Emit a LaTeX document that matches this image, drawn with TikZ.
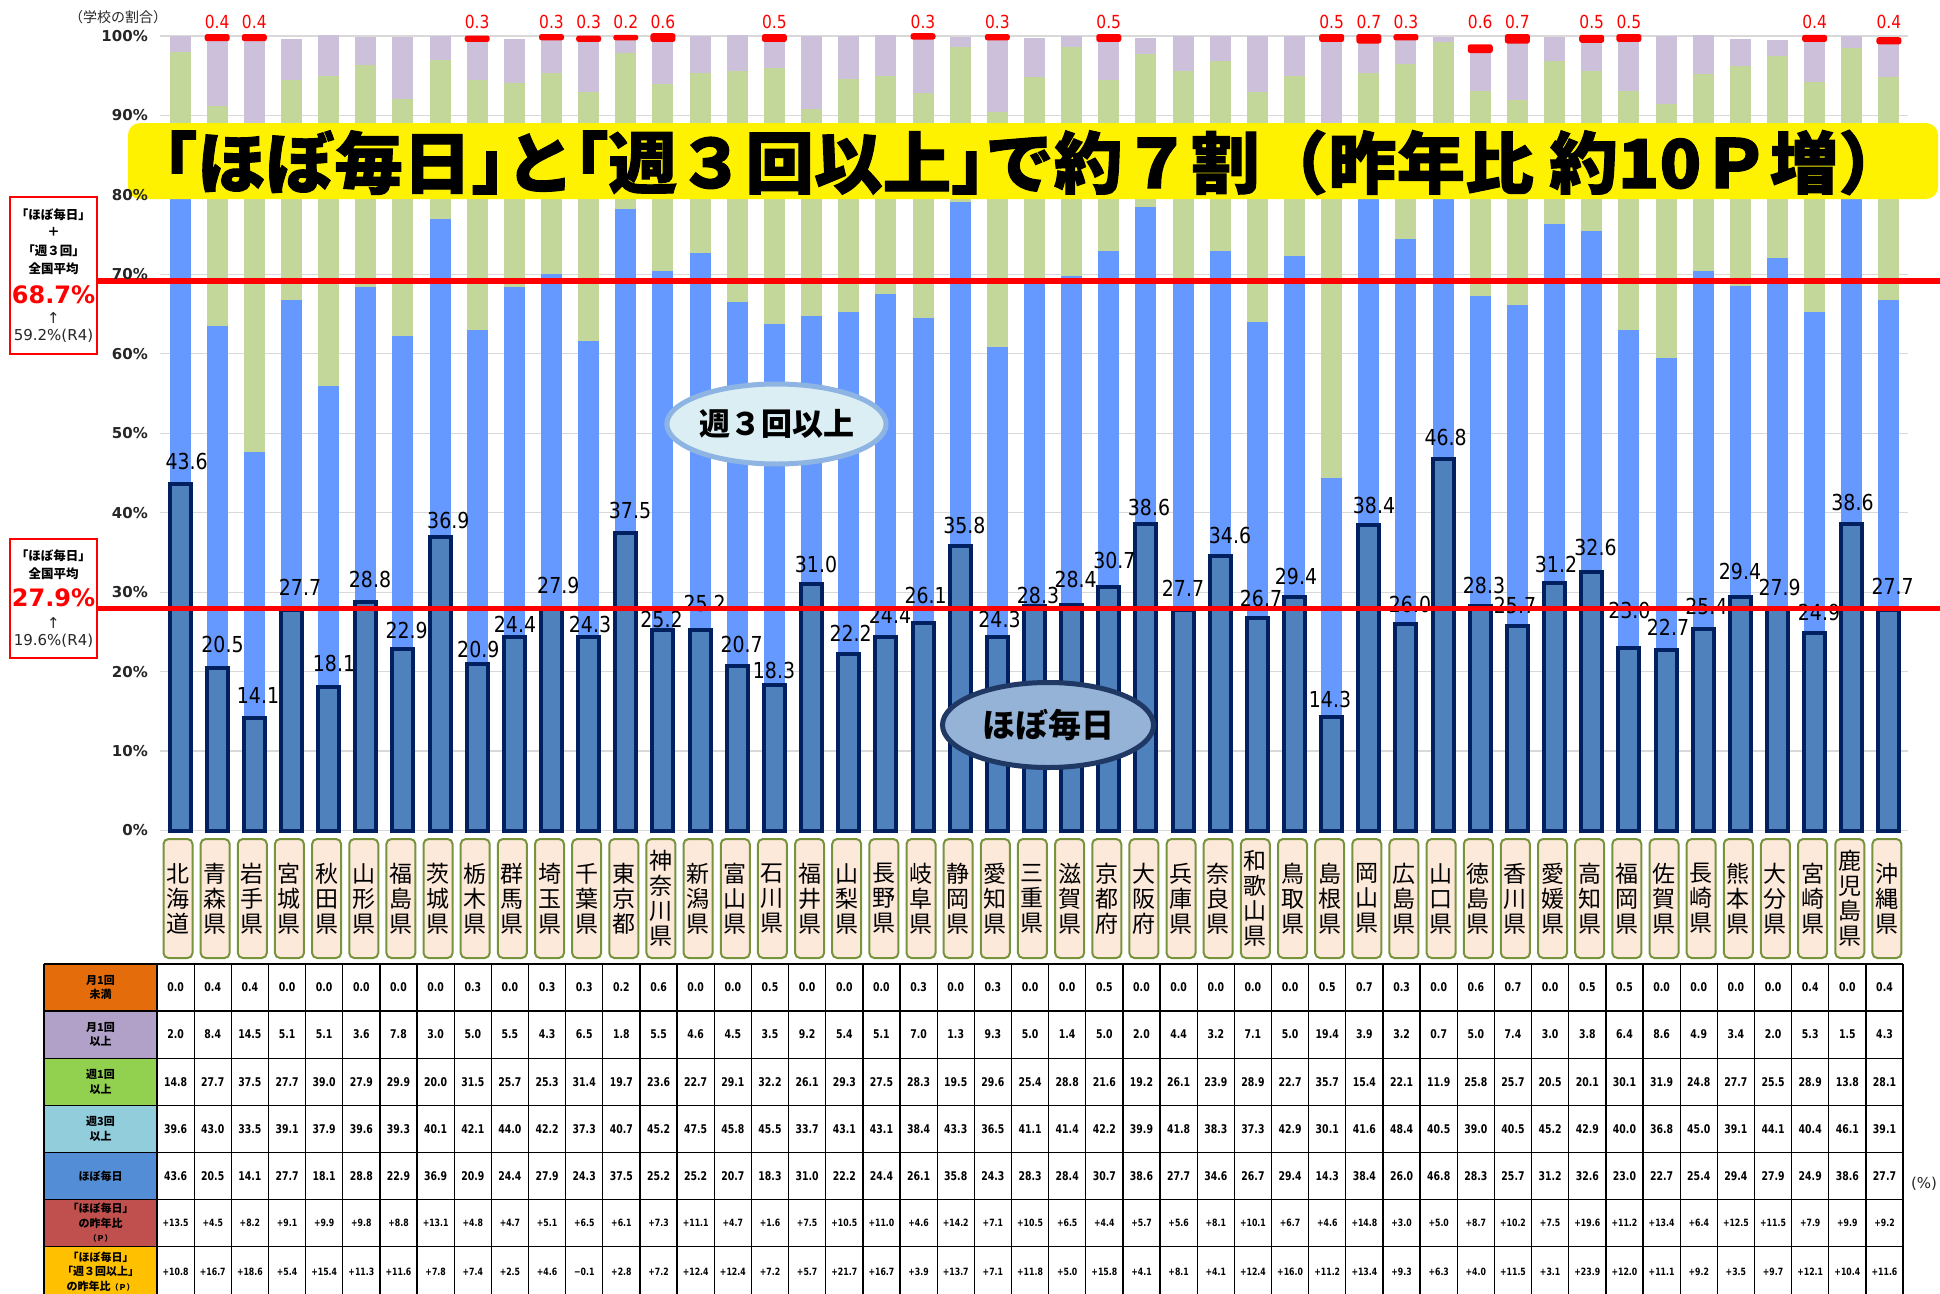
\documentclass[tikz,border=0pt]{standalone}
\usepackage{fontspec}
\usepackage{graphicx}
\usetikzlibrary{shapes.geometric}
\setmainfont{DejaVu Sans}
\newfontfamily\jp{Noto Sans CJK JP}
\newfontfamily\jptitle[FakeBold=1.5]{Noto Sans CJK JP}
\newfontfamily\jphalt[RawFeature=+halt, FakeBold=1.5]{Noto Sans CJK JP}
\newcommand\tlb{{\jphalt\bfseries 「}}
\newcommand\trb{{\jphalt\bfseries 」}}
\newfontfamily\numf[FakeStretch=0.86]{DejaVu Sans}
\newfontfamily\tabf[FakeStretch=0.78]{DejaVu Sans}
\newfontfamily\dv{DejaVu Sans}
\definecolor{cDark}{HTML}{4F81BD}
\definecolor{cNavy}{HTML}{002060}
\definecolor{cBlue}{HTML}{6699FF}
\definecolor{cGreen}{HTML}{C4D79B}
\definecolor{cLav}{HTML}{CCC0DA}
\definecolor{cGrid}{HTML}{D9D9D9}
\definecolor{cPeach}{HTML}{FDE9D9}
\definecolor{cOlive}{HTML}{77933C}
\definecolor{cEafill}{HTML}{DAEEF3}
\definecolor{cEaline}{HTML}{8DB4E2}
\definecolor{cEbfill}{HTML}{95B3D7}
\definecolor{cEbline}{HTML}{1F3864}
\definecolor{hA}{HTML}{E46C0A}
\definecolor{hB}{HTML}{B1A0C7}
\definecolor{hC}{HTML}{92D050}
\definecolor{hD}{HTML}{92CDDC}
\definecolor{hE}{HTML}{538DD5}
\definecolor{hF}{HTML}{C0504D}
\definecolor{hG}{HTML}{FFC000}
\definecolor{cRed}{HTML}{FF0000}
\definecolor{cTxt}{HTML}{262626}

\def\barData{0/43.6/39.6/14.8/2.0/0.0/186.7/461,1/20.5/43.0/27.7/8.4/0.4/222.5/644.5,2/14.1/33.5/37.5/14.5/0.4/258/695,3/27.7/39.1/27.7/5.1/0.0/300/587,4/18.1/37.9/39.0/5.1/0.0/334/663,5/28.8/39.6/27.9/3.6/0.0/370/579,6/22.9/39.3/29.9/7.8/0.0/406.7/630.5,7/36.9/40.1/20.0/3.0/0.0/448.3/520,8/20.9/42.1/31.5/5.0/0.3/478.3/649,9/24.4/44.0/25.7/5.5/0.0/515/624,10/27.9/42.2/25.3/4.3/0.3/558.3/585.8,11/24.3/37.3/31.4/6.5/0.3/590/624,12/37.5/40.7/19.7/1.8/0.2/630/510.8,13/25.2/45.2/23.6/5.5/0.6/661.5/619,14/25.2/47.5/22.7/4.6/0.0/704.6/603.5,15/20.7/45.8/29.1/4.5/0.0/741.6/644.5,16/18.3/45.5/32.2/3.5/0.5/774/670,17/31.0/33.7/26.1/9.2/0.0/816/564.5,18/22.2/43.1/29.3/5.4/0.0/850.7/633.3,19/24.4/43.1/27.5/5.1/0.0/890/615.8,20/26.1/38.4/28.3/7.0/0.3/925.7/595.8,21/35.8/43.3/19.5/1.3/0.0/964.3/525,22/24.3/36.5/29.6/9.3/0.3/999.5/619,23/28.3/41.1/25.4/5.0/0.0/1038/595.5,24/28.4/41.4/28.8/1.4/0.0/1075.7/579.2,25/30.7/42.2/21.6/5.0/0.5/1114.3/560.8,26/38.6/39.9/19.2/2.0/0.0/1149/507.5,27/27.7/41.8/26.1/4.4/0.0/1183/588.7,28/34.6/38.3/23.9/3.2/0.0/1230/535.8,29/26.7/37.3/28.9/7.1/0.0/1261/598.3,30/29.4/42.9/22.7/5.0/0.0/1296/576.7,31/14.3/30.1/35.7/19.4/0.5/1330/699,32/38.4/41.6/15.4/3.9/0.7/1374/505,33/26.0/48.4/22.1/3.2/0.3/1410/604.2,34/46.8/40.5/11.9/0.7/0.0/1445.7/437.5,35/28.3/39.0/25.8/5.0/0.6/1484/585.8,36/25.7/40.5/25.7/7.4/0.7/1515/605.8,37/31.2/45.2/20.5/3.0/0.0/1556/564.2,38/32.6/42.9/20.1/3.8/0.5/1595.5/547.5,39/23.0/40.0/30.1/6.4/0.5/1629.4/610.8,40/22.7/36.8/31.9/8.6/0.0/1668/627.5,41/25.4/45.0/24.8/4.9/0.0/1706.3/606.2,42/29.4/39.1/27.7/3.4/0.0/1740/571.7,43/27.9/44.1/25.5/2.0/0.0/1779.6/587.5,44/24.9/40.4/28.9/5.3/0.4/1819/612.5,45/38.6/46.1/13.8/1.5/0.0/1852.5/502.5,46/27.7/39.1/28.1/4.3/0.4/1892.6/586.3}

\def\prefData{0/北\\海\\道,1/青\\森\\県,2/岩\\手\\県,3/宮\\城\\県,4/秋\\田\\県,5/山\\形\\県,6/福\\島\\県,7/茨\\城\\県,8/栃\\木\\県,9/群\\馬\\県,10/埼\\玉\\県,11/千\\葉\\県,12/東\\京\\都,13/神\\奈\\川\\県,14/新\\潟\\県,15/富\\山\\県,16/石\\川\\県,17/福\\井\\県,18/山\\梨\\県,19/長\\野\\県,20/岐\\阜\\県,21/静\\岡\\県,22/愛\\知\\県,23/三\\重\\県,24/滋\\賀\\県,25/京\\都\\府,26/大\\阪\\府,27/兵\\庫\\県,28/奈\\良\\県,29/和\\歌\\山\\県,30/鳥\\取\\県,31/島\\根\\県,32/岡\\山\\県,33/広\\島\\県,34/山\\口\\県,35/徳\\島\\県,36/香\\川\\県,37/愛\\媛\\県,38/高\\知\\県,39/福\\岡\\県,40/佐\\賀\\県,41/長\\崎\\県,42/熊\\本\\県,43/大\\分\\県,44/宮\\崎\\県,45/鹿\\児\\島\\県,46/沖\\縄\\県}

\def\rowA{0.0,0.4,0.4,0.0,0.0,0.0,0.0,0.0,0.3,0.0,0.3,0.3,0.2,0.6,0.0,0.0,0.5,0.0,0.0,0.0,0.3,0.0,0.3,0.0,0.0,0.5,0.0,0.0,0.0,0.0,0.0,0.5,0.7,0.3,0.0,0.6,0.7,0.0,0.5,0.5,0.0,0.0,0.0,0.0,0.4,0.0,0.4}
\def\rowB{2.0,8.4,14.5,5.1,5.1,3.6,7.8,3.0,5.0,5.5,4.3,6.5,1.8,5.5,4.6,4.5,3.5,9.2,5.4,5.1,7.0,1.3,9.3,5.0,1.4,5.0,2.0,4.4,3.2,7.1,5.0,19.4,3.9,3.2,0.7,5.0,7.4,3.0,3.8,6.4,8.6,4.9,3.4,2.0,5.3,1.5,4.3}
\def\rowC{14.8,27.7,37.5,27.7,39.0,27.9,29.9,20.0,31.5,25.7,25.3,31.4,19.7,23.6,22.7,29.1,32.2,26.1,29.3,27.5,28.3,19.5,29.6,25.4,28.8,21.6,19.2,26.1,23.9,28.9,22.7,35.7,15.4,22.1,11.9,25.8,25.7,20.5,20.1,30.1,31.9,24.8,27.7,25.5,28.9,13.8,28.1}
\def\rowD{39.6,43.0,33.5,39.1,37.9,39.6,39.3,40.1,42.1,44.0,42.2,37.3,40.7,45.2,47.5,45.8,45.5,33.7,43.1,43.1,38.4,43.3,36.5,41.1,41.4,42.2,39.9,41.8,38.3,37.3,42.9,30.1,41.6,48.4,40.5,39.0,40.5,45.2,42.9,40.0,36.8,45.0,39.1,44.1,40.4,46.1,39.1}
\def\rowE{43.6,20.5,14.1,27.7,18.1,28.8,22.9,36.9,20.9,24.4,27.9,24.3,37.5,25.2,25.2,20.7,18.3,31.0,22.2,24.4,26.1,35.8,24.3,28.3,28.4,30.7,38.6,27.7,34.6,26.7,29.4,14.3,38.4,26.0,46.8,28.3,25.7,31.2,32.6,23.0,22.7,25.4,29.4,27.9,24.9,38.6,27.7}
\def\rowF{+13.5,+4.5,+8.2,+9.1,+9.9,+9.8,+8.8,+13.1,+4.8,+4.7,+5.1,+6.5,+6.1,+7.3,+11.1,+4.7,+1.6,+7.5,+10.5,+11.0,+4.6,+14.2,+7.1,+10.5,+6.5,+4.4,+5.7,+5.6,+8.1,+10.1,+6.7,+4.6,+14.8,+3.0,+5.0,+8.7,+10.2,+7.5,+19.6,+11.2,+13.4,+6.4,+12.5,+11.5,+7.9,+9.9,+9.2}
\def\rowG{+10.8,+16.7,+18.6,+5.4,+15.4,+11.3,+11.6,+7.8,+7.4,+2.5,+4.6,−0.1,+2.8,+7.2,+12.4,+12.4,+7.2,+5.7,+21.7,+16.7,+3.9,+13.7,+7.1,+11.8,+5.0,+15.8,+4.1,+8.1,+4.1,+12.4,+16.0,+11.2,+13.4,+9.3,+6.3,+4.0,+11.5,+3.1,+23.9,+12.0,+11.1,+9.2,+3.5,+9.7,+12.1,+10.4,+11.6}

\tikzset{
  gridline/.style={draw=cGrid, line width=1.3},
  darkbar/.style={draw=cNavy, fill=cDark, line width=4},
  barlab/.style={inner sep=0, text=black, font=\numf\fontsize{22}{22}\selectfont},
  redlab/.style={inner sep=0, text=cRed, font=\numf\fontsize{18}{18}\selectfont},
  redline/.style={draw=cRed, line width=5.5},
  ylab/.style={inner sep=0, anchor=east, text=cTxt, font=\dv\bfseries\fontsize{15}{15}\selectfont},
  prefbox/.style={draw=cOlive, line width=2, fill=cPeach, rounded corners=5, minimum width=29, minimum height=119, inner sep=0, align=center, font=\jp\fontsize{23}{25}\selectfont},
  tline/.style={draw=black, line width=1.3},
  hdr/.style={inner sep=0, align=center, font=\jp\bfseries\fontsize{11}{14.5}\selectfont},
  tcell/.style={inner sep=0, text=black, font=\tabf\bfseries\fontsize{12}{12}\selectfont},
  tcells/.style={inner sep=0, text=black, font=\tabf\bfseries\fontsize{10}{10}\selectfont},
  leftbox/.style={draw=cRed, line width=2.5, fill=white, inner sep=0},
  boxjp/.style={inner sep=0, font=\jp\bfseries\fontsize{12.5}{12.5}\selectfont},
  bigred/.style={inner sep=0, text=cRed, font=\dv\bfseries\fontsize{24}{24}\selectfont},
  smalltxt/.style={inner sep=0, text=cTxt, font=\dv\fontsize{15}{15}\selectfont},
  ellA/.style={ellipse, draw=cEaline, line width=5, fill=cEafill, minimum width=200, minimum height=80, inner sep=0, font=\jp\bfseries\fontsize{31}{31}\selectfont},
  ellB/.style={ellipse, draw=cEbline, line width=5, fill=cEbfill, minimum width=211, minimum height=85, inner sep=0, font=\jp\bfseries\fontsize{33}{33}\selectfont},
}

\begin{document}
\begin{tikzpicture}[x=1pt,y=-1pt]
\useasboundingbox (0,0) rectangle (1940,1293);
\fill[white] (0,0) rectangle (1940,1293);

% gridlines
\foreach \p in {0,10,...,100}{
  \draw[gridline] (160,{830.5-7.945*\p}) -- (1908,{830.5-7.945*\p});
}

% stacked bars
\foreach \n/\vd/\vc/\vb/\vm/\vu/\lx/\ly in \barData {
  \pgfmathsetmacro\bx{180+37.15*\n}
  \pgfmathsetmacro\ya{830.5-7.945*\vd}
  \pgfmathsetmacro\yb{830.5-7.945*(\vd+\vc)}
  \pgfmathsetmacro\yc{830.5-7.945*(\vd+\vc+\vb)}
  \pgfmathsetmacro\yd{830.5-7.945*(\vd+\vc+\vb+\vm)}
  \pgfmathsetmacro\ye{830.5-7.945*(\vd+\vc+\vb+\vm+\vu)}
  \fill[cLav] (\bx-10.5,\yc) rectangle (\bx+10.5,\yd);
  \fill[cGreen] (\bx-10.5,\yb) rectangle (\bx+10.5,\yc);
  \fill[cBlue] (\bx-10.5,\ya) rectangle (\bx+10.5,\yb);
  \draw[darkbar] (\bx-10.5,830.5) rectangle (\bx+10.5,\ya);
  \pgfmathtruncatemacro\hasu{\vu>0?1:0}
  \ifnum\hasu=1
    \fill[cRed, rounded corners=2.5] (\bx-12.5,\ye-2) rectangle (\bx+12.5,\yd+2);
    \node[redlab] (u\n) at (\bx,21.5) {\vu};
  \fi
}

% value labels
\foreach \n/\vd/\vc/\vb/\vm/\vu/\lx/\ly in \barData {
  \node[barlab] (lab\n) at (\lx,\ly) {\vd};
}

% national average lines
\coordinate (avgAl) at (97,281);
\coordinate (avgAr) at (1940,281);
\coordinate (avgBl) at (97,608.5);
\coordinate (avgBr) at (1940,608.5);
\draw[redline] (avgAl) -- (avgAr);
\draw[redline] (avgBl) -- (avgBr);

% banner
\node[fill=yellow, rounded corners=12, minimum width=1810, minimum height=76, inner sep=0] (banner) at (1033,161) {};
\node[inner sep=0] (title) at (1035,162.5) {\resizebox*{1744pt}{65pt}{\jptitle\bfseries\fontsize{70}{70}\selectfont \tlb ほぼ毎日\trb と\tlb 週３回以上\trb で約７割（昨年比 約10Ｐ増）}};

% ellipses
\node[ellA] (ellW) at (776.5,424) {週３回以上};
\node[ellB] (ellD) at (1048,725) {ほぼ毎日};

% left boxes
\node[leftbox, minimum width=87, minimum height=157] (boxA) at (53.5,275.5) {};
\node[boxjp] (bAa) at (53.5,215) {「ほぼ毎日」};
\node[boxjp] (bAb) at (53.5,232) {＋};
\node[boxjp] (bAc) at (53.5,251) {「週３回」};
\node[boxjp] (bAd) at (53.5,269) {全国平均};
\node[bigred] (bAe) at (53.5,295) {68.7\%};
\node[smalltxt] (bAf) at (53.5,318) {↑};
\node[smalltxt] (bAg) at (53.5,336) {59.2\%(R4)};

\node[leftbox, minimum width=87, minimum height=119] (boxB) at (53.5,598.5) {};
\node[boxjp] (bBa) at (53.5,556) {「ほぼ毎日」};
\node[boxjp] (bBb) at (53.5,574) {全国平均};
\node[bigred] (bBc) at (53.5,598) {27.9\%};
\node[smalltxt] (bBd) at (53.5,623) {↑};
\node[smalltxt] (bBe) at (53.5,641) {19.6\%(R4)};

% axis labels
\foreach \p in {0,10,...,100}{
  \node[ylab] (y\p) at (148,{830.5-7.945*\p}) {\p\%};
}
\node[inner sep=0, text=cTxt, font=\jp\fontsize{14}{14}\selectfont] (unit) at (118,17) {（学校の割合）};

% prefecture labels
\foreach \n/\p in \prefData {
  \node[prefbox] (pref\n) at ({178+37.15*\n},898.5) {\p};
}

% table fills
\fill[hA] (44,964) rectangle (157,1011.1);
\fill[hB] (44,1011.1) rectangle (157,1058.2);
\fill[hC] (44,1058.2) rectangle (157,1105.3);
\fill[hD] (44,1105.3) rectangle (157,1152.4);
\fill[hE] (44,1152.4) rectangle (157,1199.5);
\fill[hF] (44,1199.5) rectangle (157,1246.6);
\fill[hG] (44,1246.6) rectangle (157,1294);
% table grid
\foreach \r in {0,...,6}{
  \draw[tline] (44,{964+47.1*\r}) -- (1903.05,{964+47.1*\r});
}
\draw[tline] (44,964) -- (44,1294);
\foreach \k in {0,...,47}{
  \draw[tline] ({157+37.15*\k},964) -- ({157+37.15*\k},1294);
}
% header texts
\node[hdr] (hdA) at (100.5,987.5) {月1回\\未満};
\node[hdr] (hdB) at (100.5,1034.6) {月1回\\以上};
\node[hdr] (hdC) at (100.5,1081.7) {週1回\\以上};
\node[hdr] (hdD) at (100.5,1128.8) {週3回\\以上};
\node[hdr] (hdE) at (100.5,1175.9) {ほぼ毎日};
\node[hdr] (hdF) at (100.5,1223) {「ほぼ毎日」\\の昨年比\\{\fontsize{8}{10}\selectfont （Ｐ）}};
\node[hdr] (hdG) at (100.5,1271.5) {「ほぼ毎日」\\「週３回以上」\\の昨年比{\fontsize{8}{10}\selectfont （Ｐ）}};
% data
\foreach \v [count=\k from 0] in \rowA {\node[tcell] (ta\k) at ({175.6+37.15*\k},987.5) {\v};}
\foreach \v [count=\k from 0] in \rowB {\node[tcell] (tb\k) at ({175.6+37.15*\k},1034.6) {\v};}
\foreach \v [count=\k from 0] in \rowC {\node[tcell] (tc\k) at ({175.6+37.15*\k},1081.7) {\v};}
\foreach \v [count=\k from 0] in \rowD {\node[tcell] (td\k) at ({175.6+37.15*\k},1128.8) {\v};}
\foreach \v [count=\k from 0] in \rowE {\node[tcell] (te\k) at ({175.6+37.15*\k},1175.9) {\v};}
\foreach \v [count=\k from 0] in \rowF {\node[tcells] (tf\k) at ({175.6+37.15*\k},1223) {\v};}
\foreach \v [count=\k from 0] in \rowG {\node[tcells] (tg\k) at ({175.6+37.15*\k},1271.5) {\v};}

\node[inner sep=0, text=cTxt, font=\dv\fontsize{15}{15}\selectfont] (pctlab) at (1924,1184) {(\%)};
\end{tikzpicture}
\end{document}
